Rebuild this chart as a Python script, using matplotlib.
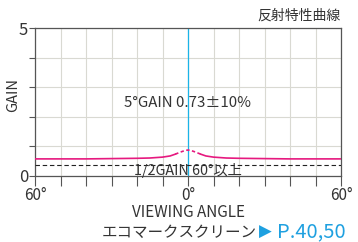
import matplotlib
matplotlib.use("Agg")
import matplotlib.pyplot as plt
import numpy as np

plt.rcParams['font.family'] = ['Noto Sans CJK JP', 'DejaVu Sans']

angles_solid_left = [-60, -40, -30, -20, -15, -10, -7, -5]
gain_solid_left = [0.57, 0.57, 0.58, 0.59, 0.60, 0.63, 0.67, 0.73]
angles_dash = [-5, -3, -1, 0, 1, 3, 5]
gain_dash = [0.73, 0.80, 0.86, 0.87, 0.86, 0.80, 0.73]
angles_solid_right = [5, 7, 10, 15, 20, 30, 40, 60]
gain_solid_right = [0.73, 0.67, 0.63, 0.60, 0.59, 0.58, 0.57, 0.57]
half_gain = 0.37

xtick_pos = [-60, 0, 60]
xtick_labels = ['60°', '0°', '60°']
ytick_pos = [0, 5]
ytick_labels = ['0', '5']

title_text = '反射特性曲線'
gain_note = '5°GAIN 0.73±10%'
half_note = '1/2GAIN 60°以上'
footer_main = 'エコマークスクリーン'
footer_arrow = '▶'
footer_ref = 'P.40,50'

TEXT = '#333333'
MAGENTA = '#e6197f'
CYAN = '#1ab4e8'
BLUE = '#1ea0e0'

fig = plt.figure(figsize=(3.58, 2.42), dpi=100)
ax = fig.add_axes([35/358, 1-175.7/242, (341-35)/358, (175.7-28.3)/242])

ax.set_xlim(-60, 60)
ax.set_ylim(0, 5)
ax.set_xticks(np.arange(-60, 61, 10))
ax.set_xticklabels(['' if t not in xtick_pos else xtick_labels[xtick_pos.index(t)] for t in range(-60, 61, 10)])
ax.set_yticks(range(0, 6))
ax.set_yticklabels([ytick_labels[ytick_pos.index(t)] if t in ytick_pos else '' for t in range(0, 6)])
ax.grid(True, color='#d9d9d2', linewidth=0.8)
ax.set_axisbelow(True)
ax.tick_params(axis='x', direction='out', length=7, width=0.8, color='#555555', labelsize=11, labelcolor=TEXT, pad=1)
ax.tick_params(axis='y', direction='out', length=4, width=0.8, color='#555555', labelsize=12, labelcolor=TEXT, pad=1)
for s in ax.spines.values():
    s.set_color('#555555')
    s.set_linewidth(0.9)

ax.axvline(0, color=CYAN, linewidth=0.9, zorder=2)
ax.axhline(half_gain, color='#222222', linewidth=0.8, dashes=(4, 2.5), zorder=3)
ax.plot(angles_solid_left, gain_solid_left, color=MAGENTA, linewidth=1.2, zorder=4)
ax.plot(angles_solid_right, gain_solid_right, color=MAGENTA, linewidth=1.2, zorder=4)
ax.plot(angles_dash, gain_dash, color=MAGENTA, linewidth=1.2, dashes=(2, 1.5), zorder=4)

ax.text(0, 2.45, gain_note, ha='center', va='center', fontsize=10.8, color=TEXT)
ax.text(0, 0.17, half_note, ha='center', va='center', fontsize=10.3, color=TEXT)

ax.set_xlabel('VIEWING ANGLE', fontsize=11, color=TEXT, labelpad=0)
ax.set_ylabel('GAIN', fontsize=10.5, color=TEXT)
ax.yaxis.set_label_coords(-0.049, 0.55)

fig.text(341/358, 1-16/242, title_text, ha='right', va='center', fontsize=10, color=TEXT)

ymid = 1 - 232/242
fig.text(102/358, ymid, footer_main, ha='left', va='center', fontsize=11.2, color=TEXT)
fig.text(259/358, ymid, footer_arrow, ha='left', va='center', fontsize=12, color=BLUE,
         family=['DejaVu Sans'])
fig.text(277/358, ymid, footer_ref, ha='left', va='center', fontsize=14.5, color=BLUE)

fig.savefig('out.png', dpi=100)
